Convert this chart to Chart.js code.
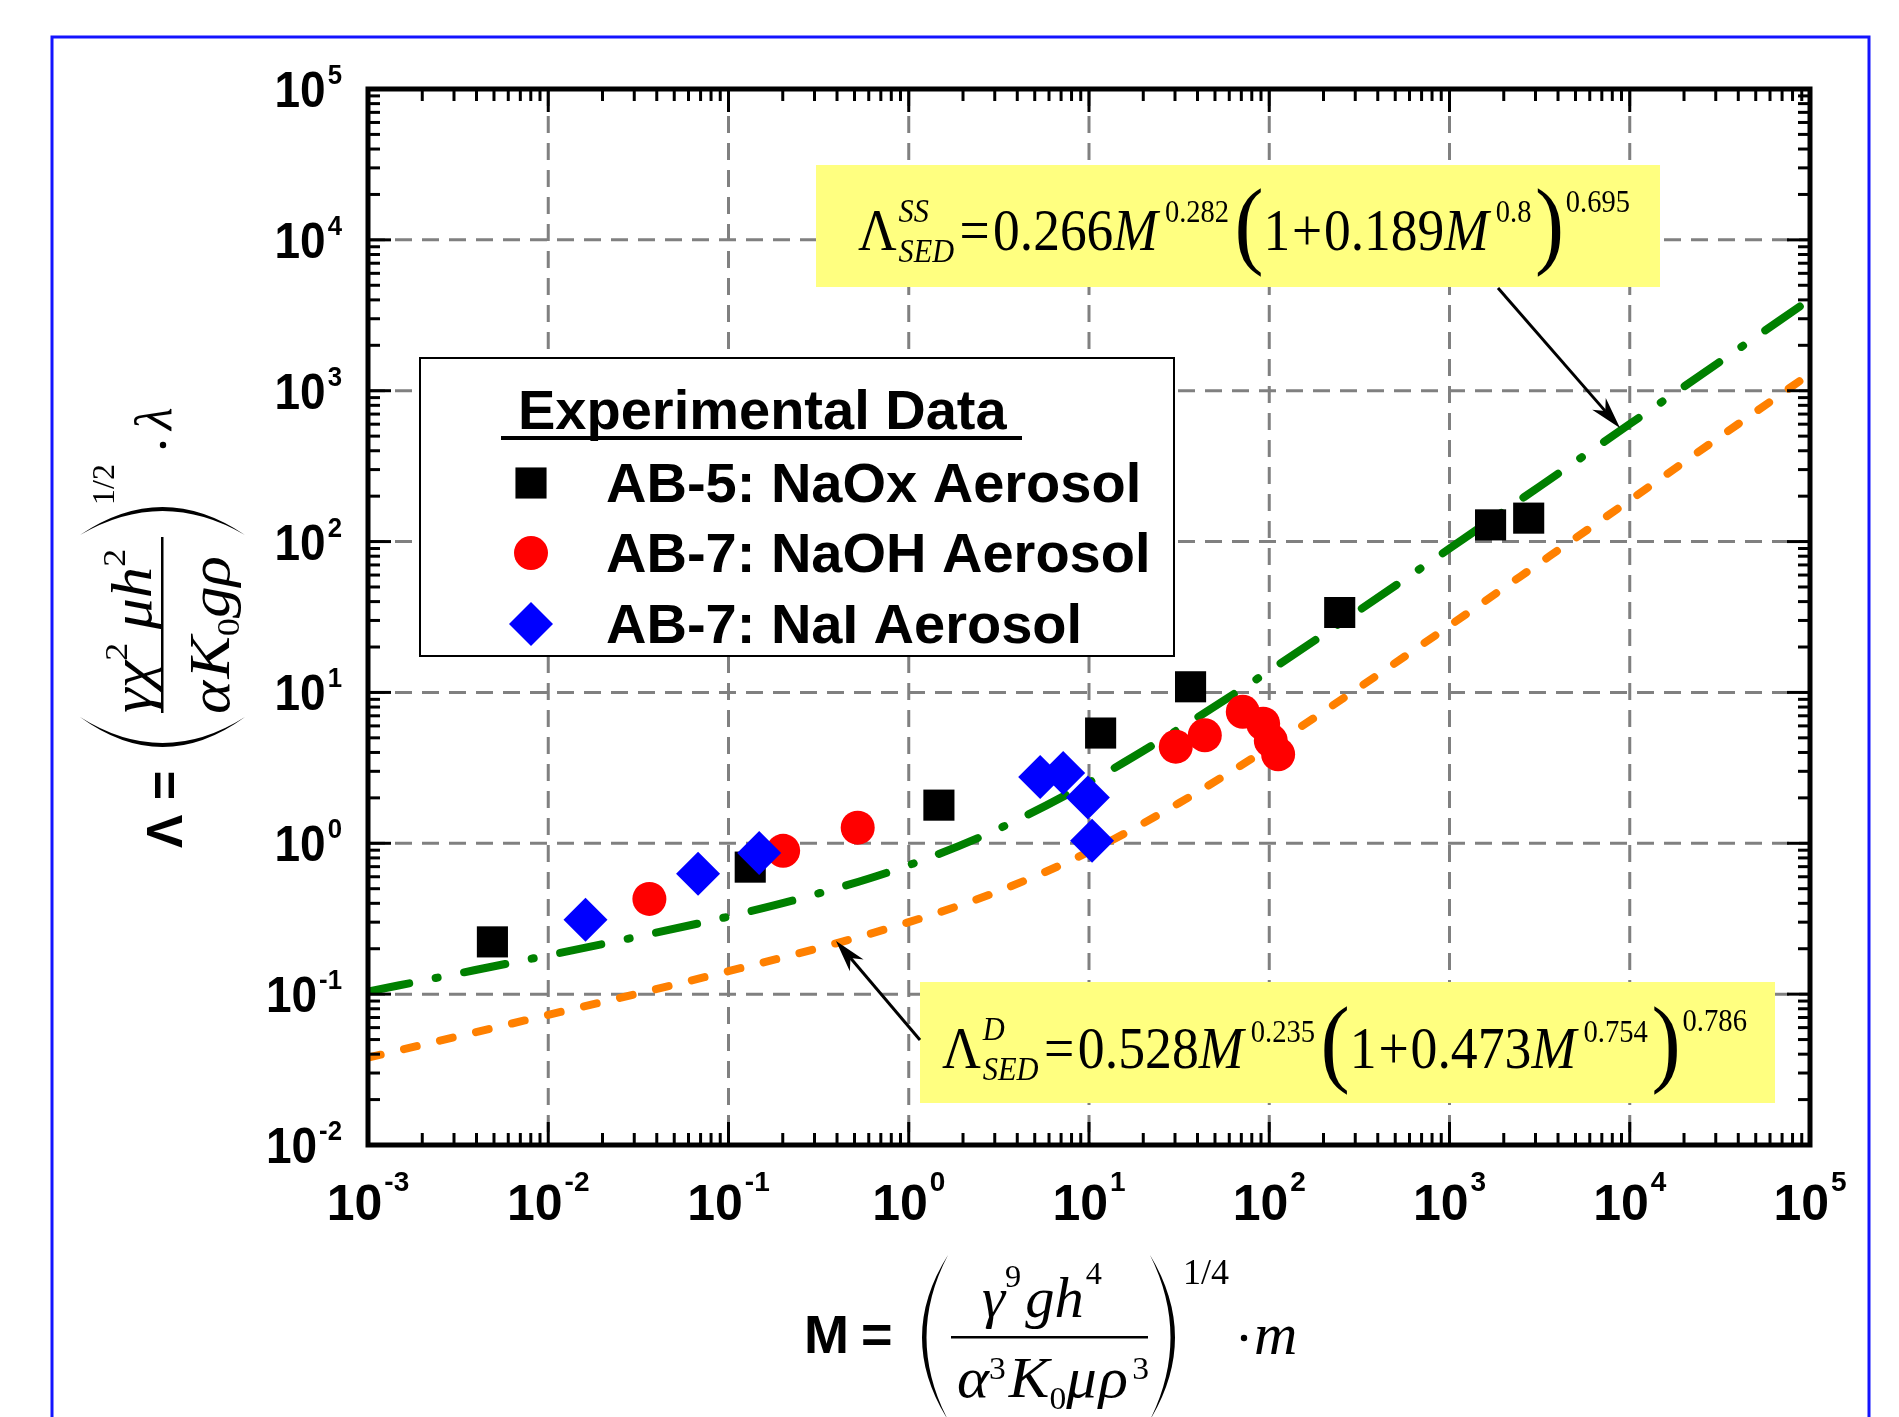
<!DOCTYPE html>
<html>
<head>
<meta charset="utf-8">
<title>Sedimentation correlation</title>
<script src="https://cdn.jsdelivr.net/npm/chart.js@4.4.1/dist/chart.umd.min.js"></script>
<style>
  html, body { margin: 0; padding: 0; background: #ffffff; }
  canvas { display: block; }
</style>
</head>
<body>
<canvas id="sedChart" width="1899" height="1417"></canvas>
<script>
// values (M on x, Lambda on y)
const naoxM = [0.0049, 0.132, 1.47, 11.6, 36.6, 246, 1690, 2750];
const naoxLambda = [0.222, 0.695, 1.79, 5.38, 10.9, 33.9, 129, 143];

const naohM = [0.0364, 0.201, 0.521, 30.3, 43.9, 71.3, 92.5, 102, 112];
const naohLambda = [0.428, 0.891, 1.27, 4.37, 5.2, 7.45, 6.21, 4.79, 3.89];

const naiM = [0.0161, 0.0678, 0.148, 5.36, 7.19, 9.86, 10.4];
const naiLambda = [0.311, 0.628, 0.861, 2.75, 2.92, 2.01, 1.04];

const fitM = [0.001, 0.00316, 0.01, 0.0316, 0.1, 0.316, 1, 3.16, 10, 31.6, 100, 316, 1000, 3160, 10000, 31600, 100000];
const fitGreen = [0.104, 0.137, 0.181, 0.241, 0.327, 0.465, 0.716, 1.25, 2.53, 5.73, 13.9, 35.1, 89.9, 232, 601, 1555, 4030];
const fitOrange = [0.0379, 0.0525, 0.0729, 0.101, 0.142, 0.202, 0.300, 0.482, 0.879, 1.85, 4.32, 10.8, 27.7, 72.0, 188, 494, 1295];

const xExponents = [-3, -2, -1, 0, 1, 2, 3, 4, 5];
const yExponents = [-2, -1, 0, 1, 2, 3, 4, 5];

const SANS = '"Liberation Sans", Arial, sans-serif';
const SERIF = '"Liberation Serif", "Times New Roman", serif';

const pairs = (xs, ys) => xs.map((x, i) => ({ x, y: ys[i] }));

function line(ctx, x1, y1, x2, y2) {
  ctx.beginPath();
  ctx.moveTo(x1, y1);
  ctx.lineTo(x2, y2);
  ctx.stroke();
}

function textSX(ctx, t, x, y, sx) {
  ctx.save();
  ctx.translate(x, y);
  ctx.scale(sx, 1);
  ctx.fillText(t, 0, 0);
  ctx.restore();
}

// lay out a row of text pieces (sub/superscripts) and stretch it to a width
function runs(ctx, list, x, y, width) {
  let w = 0;
  for (const r of list) {
    ctx.font = r.f;
    r.w = ctx.measureText(r.t).width;
    w += (r.gap || 0) + (r.stack ? 0 : r.w);
  }
  const sx = width ? width / w : 1;
  ctx.save();
  ctx.translate(x, y);
  ctx.scale(sx, 1);
  let cx = 0;
  for (const r of list) {
    cx += r.gap || 0;
    ctx.font = r.f;
    ctx.fillText(r.t, cx, r.dy || 0);
    if (!r.stack) cx += r.w;
  }
  ctx.restore();
}

// tall bracket drawn as a crescent
function paren(ctx, xBulge, xTip, yTop, yBot, thick) {
  const mid = (yTop + yBot) / 2;
  const dir = Math.sign(xTip - xBulge);
  ctx.beginPath();
  ctx.moveTo(xTip, yTop);
  ctx.quadraticCurveTo(2 * xBulge - xTip, mid, xTip, yBot);
  ctx.quadraticCurveTo(2 * (xBulge + dir * thick) - xTip, mid, xTip, yTop);
  ctx.fill();
}

function dot(ctx, x, y, r) {
  ctx.beginPath();
  ctx.arc(x, y, r, 0, Math.PI * 2);
  ctx.fill();
}

function arrow(ctx, x1, y1, x2, y2) {
  ctx.lineWidth = 3;
  const a = Math.atan2(y2 - y1, x2 - x1);
  const len = 32, hw = 9;
  const c = Math.cos(a), s = Math.sin(a);
  line(ctx, x1, y1, x2 - c * len * 0.7, y2 - s * len * 0.7);
  ctx.beginPath();
  ctx.moveTo(x2, y2);
  ctx.lineTo(x2 - c * len - s * hw, y2 - s * len + c * hw);
  ctx.lineTo(x2 - c * len * 0.7, y2 - s * len * 0.7);
  ctx.lineTo(x2 - c * len + s * hw, y2 - s * len - c * hw);
  ctx.closePath();
  ctx.fill();
}

function powerLabel(ctx, exp, anchorX, baseY, align, sx, expDy) {
  const big = `bold 50px ${SANS}`, small = `bold 28px ${SANS}`;
  const es = String(exp);
  ctx.font = big;
  const wb = ctx.measureText('10').width * sx;
  ctx.font = small;
  const we = ctx.measureText(es).width * sx;
  const total = wb + 2 + we;
  const x0 = align === 'center' ? anchorX - total / 2 : anchorX - total;
  ctx.font = big;
  textSX(ctx, '10', x0, baseY, sx);
  ctx.font = small;
  textSX(ctx, es, x0 + wb + 2, baseY + expDy, sx);
}

function marker(ctx, style, x, y, r, color) {
  ctx.fillStyle = color;
  ctx.beginPath();
  if (style === 'rect') {
    const s = r * Math.SQRT1_2;
    ctx.rect(x - s, y - s, 2 * s, 2 * s);
  } else if (style === 'rectRot') {
    ctx.moveTo(x - r, y);
    ctx.lineTo(x, y - r);
    ctx.lineTo(x + r, y);
    ctx.lineTo(x, y + r);
    ctx.closePath();
  } else {
    ctx.arc(x, y, r, 0, Math.PI * 2);
  }
  ctx.fill();
}

const it = (px) => `italic ${px}px ${SERIF}`;
const rm = (px) => `${px}px ${SERIF}`;

const ssFormula = [
  { t: 'Λ', f: rm(60) },
  { t: 'SS', f: it(34), dy: -28, gap: 2, stack: true },
  { t: 'SED', f: it(34), dy: 12 },
  { t: '=', f: rm(60), gap: 6 },
  { t: '0.266', f: rm(60), gap: 4 },
  { t: 'M', f: it(60) },
  { t: '0.282', f: rm(32), dy: -28, gap: 8 },
  { t: '(', f: rm(98), dy: 6, gap: 6 },
  { t: '1', f: rm(60) },
  { t: '+', f: rm(60), gap: 2 },
  { t: '0.189', f: rm(60), gap: 2 },
  { t: 'M', f: it(60) },
  { t: '0.8', f: rm(32), dy: -28, gap: 8 },
  { t: ')', f: rm(98), dy: 6, gap: 4 },
  { t: '0.695', f: rm(32), dy: -38, gap: 2 },
];

const dFormula = [
  { t: 'Λ', f: rm(60) },
  { t: 'D', f: it(34), dy: -28, gap: 2, stack: true },
  { t: 'SED', f: it(34), dy: 12 },
  { t: '=', f: rm(60), gap: 6 },
  { t: '0.528', f: rm(60), gap: 4 },
  { t: 'M', f: it(60) },
  { t: '0.235', f: rm(32), dy: -26, gap: 8 },
  { t: '(', f: rm(98), dy: 6, gap: 6 },
  { t: '1', f: rm(60) },
  { t: '+', f: rm(60), gap: 2 },
  { t: '0.473', f: rm(60), gap: 2 },
  { t: 'M', f: it(60) },
  { t: '0.754', f: rm(32), dy: -26, gap: 8 },
  { t: ')', f: rm(98), dy: 6, gap: 4 },
  { t: '0.786', f: rm(32), dy: -37, gap: 2 },
];

const xNum = [
  { t: 'γ', f: it(58) },
  { t: '9', f: rm(32), dy: -30 },
  { t: 'g', f: it(58), gap: 4 },
  { t: 'h', f: it(58) },
  { t: '4', f: rm(32), dy: -33, gap: 2 },
];
const xDen = [
  { t: 'α', f: it(58) },
  { t: '3', f: rm(32), dy: -18 },
  { t: 'K', f: it(58), gap: 3 },
  { t: '0', f: rm(32), dy: 12 },
  { t: 'μ', f: it(58) },
  { t: 'ρ', f: it(58), gap: 2 },
  { t: '3', f: rm(32), dy: -18, gap: 4 },
];
const yNum = [
  { t: 'γ', f: it(56) },
  { t: 'χ', f: it(56) },
  { t: '2', f: rm(32), dy: -24 },
  { t: 'μ', f: it(56), gap: 12 },
  { t: 'h', f: it(56) },
  { t: '2', f: rm(32), dy: -26 },
];
const yDen = [
  { t: 'α', f: it(56) },
  { t: 'K', f: it(56), gap: 2 },
  { t: '0', f: rm(32), dy: 10 },
  { t: 'g', f: it(56) },
  { t: 'ρ', f: it(56) },
];

const decor = {
  id: 'decor',
  beforeDraw(chart) {
    const ctx = chart.ctx;
    ctx.save();
    ctx.fillStyle = '#ffffff';
    ctx.fillRect(0, 0, chart.width, chart.height);
    ctx.strokeStyle = '#1414ff';
    ctx.lineWidth = 3;
    ctx.beginPath();
    ctx.moveTo(52, chart.height + 5);
    ctx.lineTo(52, 37);
    ctx.lineTo(1869, 37);
    ctx.lineTo(1869, chart.height + 5);
    ctx.stroke();
    ctx.restore();
  },
  beforeDatasetsDraw(chart) {
    const { ctx, chartArea: a, scales: { x, y } } = chart;
    ctx.save();
    ctx.strokeStyle = '#808080';
    ctx.lineWidth = 3;
    ctx.setLineDash([17, 10]);
    xExponents.slice(1, -1).forEach((e) => {
      const px = x.getPixelForValue(10 ** e);
      line(ctx, px, a.top, px, a.bottom);
    });
    yExponents.slice(1, -1).forEach((e) => {
      const py = y.getPixelForValue(10 ** e);
      line(ctx, a.left, py, a.right, py);
    });
    ctx.restore();
  },
  afterDatasetsDraw(chart) {
    const { ctx, chartArea: a, scales: { x, y } } = chart;
    ctx.save();
    ctx.textAlign = 'left';
    ctx.textBaseline = 'alphabetic';
    ctx.strokeStyle = '#000';
    ctx.fillStyle = '#000';

    // inward ticks on all four sides
    ctx.lineWidth = 3;
    xExponents.forEach((e) => {
      const px = x.getPixelForValue(10 ** e);
      line(ctx, px, a.bottom, px, a.bottom - 23);
      line(ctx, px, a.top, px, a.top + 23);
      if (e === xExponents[xExponents.length - 1]) return;
      for (let k = 2; k <= 9; k++) {
        const pm = x.getPixelForValue(k * 10 ** e);
        line(ctx, pm, a.bottom, pm, a.bottom - 12);
        line(ctx, pm, a.top, pm, a.top + 12);
      }
    });
    yExponents.forEach((e) => {
      const py = y.getPixelForValue(10 ** e);
      line(ctx, a.left, py, a.left + 23, py);
      line(ctx, a.right, py, a.right - 23, py);
      if (e === yExponents[yExponents.length - 1]) return;
      for (let k = 2; k <= 9; k++) {
        const pm = y.getPixelForValue(k * 10 ** e);
        line(ctx, a.left, pm, a.left + 12, pm);
        line(ctx, a.right, pm, a.right - 12, pm);
      }
    });
    ctx.lineWidth = 5;
    ctx.strokeRect(a.left, a.top, a.right - a.left, a.bottom - a.top);

    // tick labels 10^n
    xExponents.forEach((e) => {
      powerLabel(ctx, e, x.getPixelForValue(10 ** e), a.bottom + 75, 'center', 1, -29);
    });
    yExponents.forEach((e) => {
      powerLabel(ctx, e, a.left - 26, y.getPixelForValue(10 ** e) + 18, 'right', 0.92, -23);
    });

    // legend
    ctx.fillStyle = '#ffffff';
    ctx.fillRect(420, 358, 754, 298);
    ctx.lineWidth = 2;
    ctx.strokeRect(420, 358, 754, 298);
    ctx.fillStyle = '#000';
    ctx.font = `bold 56px ${SANS}`;
    ctx.fillText('Experimental Data', 518, 429);
    ctx.fillRect(501, 436, 521, 4);
    const sets = chart.data.datasets.filter((d) => d.legendRow !== undefined);
    sets.forEach((d) => {
      const base = [502, 572, 643][d.legendRow];
      marker(ctx, d.pointStyle, 531, base - 19, d.pointRadius, d.backgroundColor);
      ctx.fillStyle = '#000';
      ctx.font = `bold 56px ${SANS}`;
      ctx.fillText(d.label, 606, base);
    });

    // formula boxes and arrows
    ctx.fillStyle = '#ffff80';
    ctx.fillRect(816, 165, 844, 122);
    ctx.fillRect(920, 982, 855, 121);
    ctx.fillStyle = '#000';
    runs(ctx, ssFormula, 858, 250, 772);
    runs(ctx, dFormula, 942, 1068, 805);
    arrow(ctx, 1498, 288, 1620, 428);
    arrow(ctx, 920, 1040, 836, 941);

    // x axis title
    ctx.font = `bold 54px ${SANS}`;
    ctx.fillText('M', 804, 1353);
    ctx.fillText('=', 861, 1353);
    paren(ctx, 922, 948, 1255, 1420, 4.5);
    ctx.fillRect(951, 1336, 197, 2.5);
    runs(ctx, xNum, 982, 1317, 120);
    runs(ctx, xDen, 957, 1397, 192);
    paren(ctx, 1175, 1150, 1255, 1420, 4.5);
    ctx.font = rm(36);
    ctx.fillText('1/4', 1183, 1284);
    dot(ctx, 1244, 1338, 3.2);
    ctx.font = it(60);
    ctx.fillText('m', 1254, 1354);

    // y axis title, rotated: local (u, v) -> screen (v, -u)
    ctx.save();
    ctx.rotate(-Math.PI / 2);
    ctx.font = `bold 50px ${SANS}`;
    ctx.fillText('Λ', -848, 182);
    ctx.fillText('=', -800, 182);
    paren(ctx, -747, -717, 80, 245, 4);
    ctx.fillRect(-713, 161, 176, 2.5);
    runs(ctx, yNum, -713, 151, 164);
    runs(ctx, yDen, -714, 229, 158);
    paren(ctx, -507, -535, 80, 245, 4);
    ctx.font = rm(32);
    ctx.fillText('1/2', -505, 114);
    dot(ctx, -445, 163, 3.2);
    ctx.font = it(52);
    ctx.fillText('λ', -430, 171);
    ctx.restore();

    ctx.restore();
  },
};

const chart = new Chart(document.getElementById('sedChart').getContext('2d'), {
  type: 'scatter',
  data: {
    datasets: [
      {
        label: 'AB-7: NaI Aerosol',
        legendRow: 2,
        data: pairs(naiM, naiLambda),
        pointStyle: 'rectRot',
        pointRadius: 22,
        backgroundColor: '#0000ff',
        borderWidth: 0,
        order: 0,
      },
      {
        label: 'AB-7: NaOH Aerosol',
        legendRow: 1,
        data: pairs(naohM, naohLambda),
        pointStyle: 'circle',
        pointRadius: 17,
        backgroundColor: '#ff0000',
        borderWidth: 0,
        order: 1,
      },
      {
        label: 'AB-5: NaOx Aerosol',
        legendRow: 0,
        data: pairs(naoxM, naoxLambda),
        pointStyle: 'rect',
        pointRadius: 22,
        backgroundColor: '#000000',
        borderWidth: 0,
        order: 2,
      },
      {
        label: 'fit green',
        data: pairs(fitM, fitGreen),
        showLine: true,
        pointRadius: 0,
        borderColor: '#008000',
        borderWidth: 8,
        borderDash: [42, 27, 2, 27],
        borderCapStyle: 'round',
        cubicInterpolationMode: 'monotone',
        order: 3,
      },
      {
        label: 'fit orange',
        data: pairs(fitM, fitOrange),
        showLine: true,
        pointRadius: 0,
        borderColor: '#ff8000',
        borderWidth: 8,
        borderDash: [13, 24],
        borderCapStyle: 'round',
        cubicInterpolationMode: 'monotone',
        order: 4,
      },
    ],
  },
  options: {
    responsive: false,
    animation: false,
    devicePixelRatio: 1,
    layout: { padding: { left: 368, right: 89, top: 89, bottom: 272 } },
    plugins: {
      legend: { display: false },
      tooltip: { enabled: false },
    },
    scales: {
      x: { type: 'logarithmic', min: 10 ** xExponents[0], max: 10 ** xExponents[xExponents.length - 1], display: false },
      y: { type: 'logarithmic', min: 10 ** yExponents[0], max: 10 ** yExponents[yExponents.length - 1], display: false },
    },
  },
  plugins: [decor],
});
</script>
</body>
</html>
